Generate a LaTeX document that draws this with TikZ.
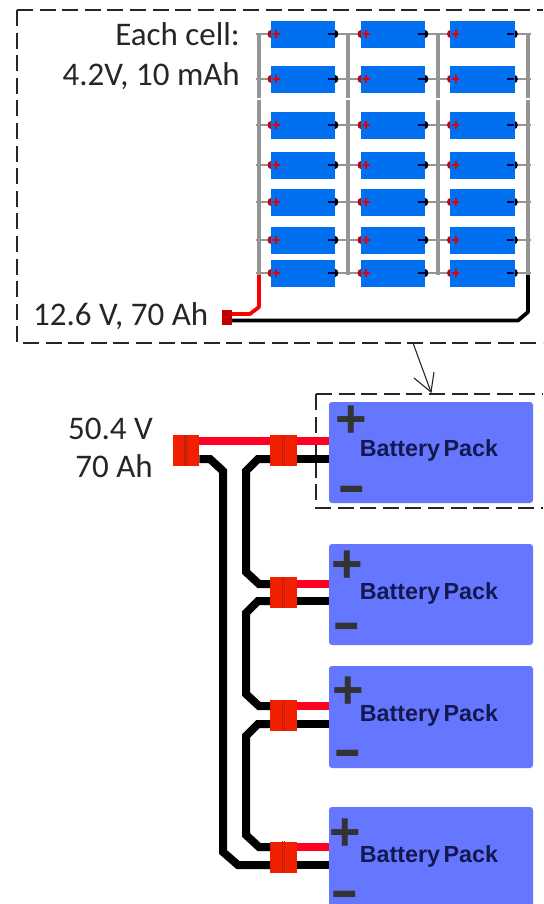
\documentclass[tikz,border=0pt]{standalone}
\usepackage{fontspec}
\setmainfont{Carlito}
\newfontfamily\packfont{Liberation Sans}
\definecolor{cellblue}{HTML}{0070F0}
\definecolor{busgray}{HTML}{959595}
\definecolor{packblue}{HTML}{6677FF}
\definecolor{wirered}{HTML}{FF0022}
\definecolor{plugred}{HTML}{F02000}
\definecolor{plugdark}{HTML}{B82010}
\definecolor{packtext}{HTML}{14184F}
\definecolor{signgray}{HTML}{333333}
\definecolor{smallred}{HTML}{C00000}
\newcommand{\minusglyph}{\raisebox{-19.5pt}[4pt][4pt]{\scalebox{1}[1.45]{–}}}
\tikzset{
  cellbox/.style={fill=cellblue,draw=none,minimum width=64.5pt,minimum height=26.5pt,inner sep=0pt},
  bus/.style={draw=busgray,line width=3.4pt},
  stub/.style={draw=busgray,line width=2.8pt},
  frame/.style={draw=black!85,line width=1.3pt,dash pattern=on 16pt off 6.6pt},
  labeltext/.style={text=black!85,font=\fontsize{33}{36}\selectfont,inner sep=0pt},
  packbox/.style={fill=packblue,draw=none,rounded corners=3pt,minimum width=204pt,inner sep=0pt},
  packlabel/.style={text=packtext,inner sep=0pt,font=\packfont\bfseries\fontsize{23.3}{26}\selectfont},
  plussign/.style={text=signgray,inner sep=0pt,font=\packfont\bfseries\fontsize{54}{54}\selectfont},
  minussign/.style={text=signgray,inner sep=0pt,font=\packfont\bfseries\fontsize{44}{44}\selectfont},
  plug/.style={fill=plugred,draw=none,minimum width=26.5pt,minimum height=31pt,inner sep=0pt},
  redwire/.style={draw=wirered,line width=8pt},
  blackwire/.style={draw=black,line width=8pt,line join=miter},
  divider/.style={draw=plugdark,line width=1.3pt},
  smallwire/.style={line width=3.8pt,line join=round}
}
\begin{document}
\begin{tikzpicture}[x=1pt,y=-1pt]
\useasboundingbox (0,0) rectangle (543,904);
\clip (0,0) rectangle (543,904);
\fill[white] (0,0) rectangle (543,904);

% ---- top frame
\coordinate (frameacorner) at (17,10);
\draw[frame] (frameacorner) -- (543,10);
\draw[frame] (frameacorner) -- (17,343) -- (543,343);

% ---- buses
\foreach \bx/\bn in {259/a,348/b,438/c,528/d}{
  \coordinate (bus\bn top) at (\bx,33);
  \coordinate (bus\bn bot) at (\bx,275);
  \draw[bus] (\bx,33) -- (\bx,98);
  \draw[bus] (\bx,100) -- (\bx,275);
}
% ---- cells
\foreach \ry [count=\r] in {34,79,125,165,202,240,273}{
  \draw[stub] (256,\ry) -- (531,\ry);
  \foreach \cx [count=\c] in {303,393,482.5}{
    \fill[red!80!black] (\cx-32.25,\ry) ellipse (3.2pt and 4pt);
    \fill[black] (\cx+32.25,\ry) ellipse (3pt and 4pt);
    \node[cellbox] (cell\r-\c) at (\cx,\ry+0.5) {};
    \draw[red!90!black,line width=1.7pt] (\cx-30.25,\ry) -- (\cx-23.25,\ry);
    \draw[red!90!black,line width=1.7pt] (\cx-26.75,\ry-4) -- (\cx-26.75,\ry+4);
    \draw[black!75!blue,line width=2pt] (\cx+24.5,\ry) -- (\cx+31.5,\ry);
  }
}

% ---- small pack output
\node[fill=smallred,draw=none,minimum width=10pt,minimum height=15pt,inner sep=0pt] (smallplug) at (227,317.5) {};
\coordinate (redbend1) at (259,307);
\coordinate (redbend2) at (250,314);
\coordinate (blackbend1) at (528,312);
\coordinate (blackbend2) at (518,320.5);
\draw[red,smallwire] (busabot) -- (redbend1) -- (redbend2) -- (smallplug.east |- redbend2);
\draw[black,smallwire] (busdbot) -- (blackbend1) -- (blackbend2) -- (smallplug.east |- blackbend2);

% ---- labels
\node[labeltext,anchor=base east] (lab1) at (240,46) {Each cell:};
\node[labeltext,anchor=base east] (lab2) at (240,86) {4.2V, 10 mAh};
\node[labeltext,anchor=base west] (lab3) at (33,325) {12.6 V, 70 Ah};
\node[labeltext,anchor=base east] (lab4) at (153,439) {50.4 V};
\node[labeltext,anchor=base east] (lab5) at (153,477) {70 Ah};

% ---- packs
\node[packbox,minimum height=101pt] (pack1) at (431,452.5) {};
\node[packbox,minimum height=101pt] (pack2) at (431,594.5) {};
\node[packbox,minimum height=102pt] (pack3) at (431,717) {};
\node[packbox,minimum height=102pt] (pack4) at (431,858) {};
\node[packlabel] (plabel1) at (429,450) {\spaceskip=3.5pt Battery Pack};
\node[packlabel] (plabel2) at (429,593) {\spaceskip=3.5pt Battery Pack};
\node[packlabel] (plabel3) at (429,715) {\spaceskip=3.5pt Battery Pack};
\node[packlabel] (plabel4) at (429,856) {\spaceskip=3.5pt Battery Pack};
\node[plussign] (plus1) at (351,422) {+};
\node[plussign] (plus2) at (347,567) {+};
\node[plussign] (plus3) at (348,693) {+};
\node[plussign] (plus4) at (345,835) {+};
\node[minussign] (minus1) at (352,487) {\minusglyph};
\node[minussign] (minus2) at (347,624) {\minusglyph};
\node[minussign] (minus3) at (348,751) {\minusglyph};
\node[minussign] (minus4) at (345,892) {\minusglyph};

% ---- second frame and link arrow
\coordinate (framebcorner) at (316,394);
\draw[frame] (framebcorner) -- (543,394);
\draw[frame] (framebcorner) -- (316,508) -- (543,508);
\coordinate (arrowstart) at (413,343);
\coordinate (arrowtip) at (431,392);
\coordinate (arrowarm1) at (414,378);
\coordinate (arrowarm2) at (434,372);
\draw[black!85,line width=1.1pt] (arrowstart) -- (arrowtip);
\draw[black!85,line width=1.1pt] (arrowarm1) -- (arrowtip) -- (arrowarm2);

% ---- plugs
\node[plug] (plug0) at (186,450.5) {};
\node[plug] (plug1) at (283.5,450.5) {};
\node[plug] (plug2) at (283.5,592.5) {};
\node[plug] (plug3) at (283.5,715.5) {};
\node[plug] (plug4) at (283.5,857) {};

% ---- red wires
\draw[redwire] (plug0.east |- 0,441) -- (plug1.west |- 0,441);
\draw[redwire] (plug1.east |- 0,441) -- (pack1.west |- 0,441);
\draw[redwire] (plug2.east |- 0,584) -- (pack2.west |- 0,584);
\draw[redwire] (plug3.east |- 0,706) -- (pack3.west |- 0,706);
\draw[redwire] (plug4.east |- 0,847) -- (pack4.west |- 0,847);

% ---- black wires to packs
\draw[blackwire] (plug1.east |- 0,459) -- (pack1.west |- 0,459);
\draw[blackwire] (plug2.east |- 0,601) -- (pack2.west |- 0,601);
\draw[blackwire] (plug3.east |- 0,724) -- (pack3.west |- 0,724);
\draw[blackwire] (plug4.east |- 0,865) -- (pack4.west |- 0,865);

% ---- black harness
\draw[blackwire] (plug0.east |- 0,459) -- (210,459) -- (223,471) -- (223,852) -- (238,865) -- (plug4.west |- 0,865);
\draw[blackwire] (plug1.west |- 0,459) -- (258,459) -- (246,471) -- (246,572) -- (259,584) -- (plug2.west |- 0,584);
\draw[blackwire] (plug2.west |- 0,601) -- (258,601) -- (246,613) -- (246,694) -- (259,706) -- (plug3.west |- 0,706);
\draw[blackwire] (plug3.west |- 0,724) -- (258,724) -- (246,736) -- (246,835) -- (259,847) -- (plug4.west |- 0,847);

% ---- plug dividers
\foreach \p in {0,1,2,3,4}{
  \draw[divider] ([xshift=-1pt]plug\p.north) -- ([xshift=-1pt]plug\p.south);
  \draw[divider,draw=plugdark!70!plugred] ([xshift=1.2pt]plug\p.north) -- ([xshift=1.2pt]plug\p.south);
}
\end{tikzpicture}
\end{document}
